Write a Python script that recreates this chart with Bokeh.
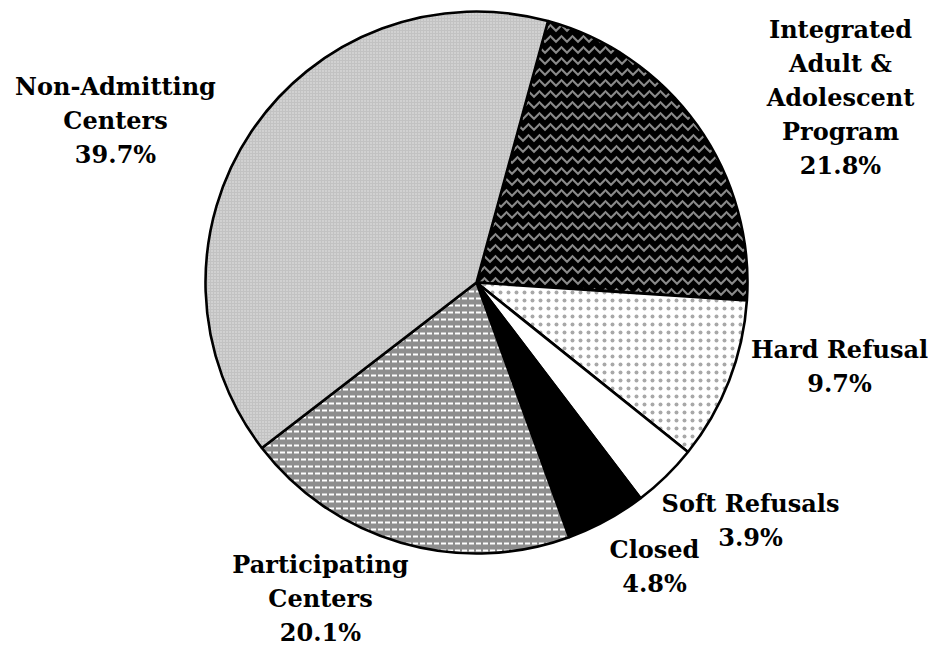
import math
from bokeh.plotting import figure
from bokeh.models import ColumnDataSource, Range1d
from bokeh.core.properties import value
from bokeh.embed import file_html
from bokeh.resources import INLINE

# ---- data ----
categories = ["Integrated Adult & Adolescent Program", "Hard Refusal", "Soft Refusals",
              "Closed", "Participating Centers", "Non-Admitting Centers"]
label_lines = ["Integrated\nAdult &\nAdolescent\nProgram", "Hard Refusal", "Soft Refusals",
               "Closed", "Participating\nCenters", "Non-Admitting\nCenters"]
percents = [21.8, 9.7, 3.9, 4.8, 20.1, 39.7]

# ---- styles ----
fills = ["black", "white", "white", "black", "#8e8e8e", "#c2c2c2"]
hatches = ["horizontal_wave", "dot", " ", " ", "horizontal_dash", "dot"]
hatch_colors = ["#8a8a8a", "#a8a8a8", "white", "white", "white", "#e8e8e8"]
hatch_scales = [11, 8, 6, 6, 7, 3]
hatch_weights = [2, 1, 1, 1, 2, 1]

# label anchors in screen pixels (x, y from top)
label_pos = [(840, 97), (839, 366), (750, 520), (654, 566), (320, 598), (115, 120)]

W, H = 928, 648
cx, cy, r = 476, 282, 271
start_cw = 15.3  # degrees clockwise from 12 o'clock

total = sum(percents)
starts, ends = [], []
a = start_cw
for v in percents:
    b = a + v / total * 360.0
    starts.append(math.radians(90 - a))
    ends.append(math.radians(90 - b))
    a = b

src = ColumnDataSource(dict(
    cat=categories, start=starts, end=ends, fill=fills, hatch=hatches,
    hcol=hatch_colors, hscale=hatch_scales, hweight=hatch_weights,
    x=[cx] * len(percents), y=[H - cy] * len(percents),
))

p = figure(width=W, height=H, output_backend="svg", toolbar_location=None,
           x_range=Range1d(0, W), y_range=Range1d(0, H), min_border=0)
p.axis.visible = False
p.grid.visible = False
p.outline_line_color = None
p.background_fill_color = "white"
p.border_fill_color = "white"

p.wedge(x="x", y="y", radius=r, radius_units="screen", start_angle="start", end_angle="end",
        direction="clock", fill_color="fill", hatch_pattern="hatch", hatch_color="hcol",
        hatch_scale="hscale", hatch_weight="hweight", line_color="black", line_width=2.6,
        source=src)

texts = [f"{t}\n{v:.1f}%" for t, v in zip(label_lines, percents)]
lsrc = ColumnDataSource(dict(
    x=[q[0] for q in label_pos], y=[H - q[1] for q in label_pos], t=texts))
p.text(x="x", y="y", text="t", source=lsrc, text_align="center", text_baseline="middle",
       text_font=value("DejaVu Serif"), text_font_style="bold", text_font_size="24px",
       text_line_height=1.17, text_color="black")

open("out.html", "w").write(file_html(p, INLINE))
